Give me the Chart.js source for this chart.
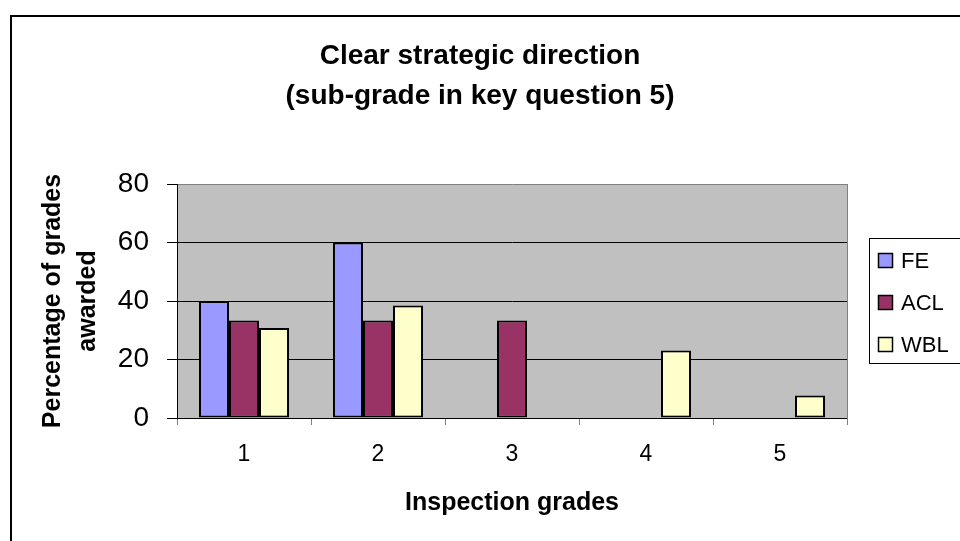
<!DOCTYPE html>
<html>
<head>
<meta charset="utf-8">
<script src="https://cdn.jsdelivr.net/npm/chart.js@4.4.1/dist/chart.umd.min.js"></script>
<style>
  html, body { margin: 0; padding: 0; background: #ffffff; }
  #wrap { width: 960px; height: 541px; }
</style>
</head>
<body>
<div id="wrap"><canvas id="c" width="960" height="541"></canvas></div>
<script>
const titleLines = ['Clear strategic direction', '(sub-grade in key question 5)'];
const yTitleLines = ['Percentage of grades', 'awarded'];
const xTitle = 'Inspection grades';
const categories = ['1', '2', '3', '4', '5'];
const seriesNames = ['FE', 'ACL', 'WBL'];
const feValues = [40, 60, 0, 0, 0];
const aclValues = [33.3, 33.3, 33.3, 0, 0];
const wblValues = [30.8, 38.5, 0, 23.1, 7.7];
const seriesColors = ['#9999FF', '#993366', '#FFFFCC'];
const yTicks = [0, 20, 40, 60, 80];

const FONT = "'Liberation Sans', Arial, sans-serif";
Chart.defaults.font.family = FONT;
Chart.defaults.color = '#000000';

const chromePlugin = {
  id: 'chrome',
  beforeDraw(chart) {
    const ctx = chart.ctx;
    const a = chart.chartArea;
    ctx.save();
    ctx.fillStyle = '#ffffff';
    ctx.fillRect(0, 0, chart.width, chart.height);
    ctx.fillStyle = '#C0C0C0';
    ctx.fillRect(a.left, a.top, a.right - a.left, a.bottom - a.top);
    ctx.strokeStyle = '#000000';
    ctx.lineWidth = 2;
    ctx.strokeRect(11, 16, 1000, 600);
    ctx.restore();
  },
  afterDraw(chart) {
    const ctx = chart.ctx;
    ctx.save();
    ctx.strokeStyle = '#000000';
    ctx.lineWidth = 1;
    ctx.strokeRect(869.5, 238.5, 120, 125);
    ctx.font = '22px ' + FONT;
    ctx.textBaseline = 'middle';
    ctx.textAlign = 'left';
    chart.data.datasets.forEach((ds, i) => {
      const cy = 260.5 + i * 42;
      ctx.fillStyle = ds.backgroundColor;
      ctx.fillRect(878, cy - 7.5, 15, 15);
      ctx.lineWidth = 1.5;
      ctx.strokeStyle = '#000000';
      ctx.strokeRect(878.5, cy - 7, 14, 14);
      ctx.fillStyle = '#000000';
      ctx.fillText(ds.label, 901, cy + 1);
    });
    ctx.restore();
  }
};

const datasets = [feValues, aclValues, wblValues].map((vals, i) => ({
  label: seriesNames[i],
  data: vals,
  backgroundColor: seriesColors[i],
  borderColor: '#000000',
  borderWidth: 2,
  borderSkipped: false,
  categoryPercentage: 0.672,
  barPercentage: 1.0
}));

new Chart(document.getElementById('c'), {
  type: 'bar',
  data: { labels: categories, datasets: datasets },
  plugins: [chromePlugin],
  options: {
    responsive: false,
    animation: false,
    devicePixelRatio: 1,
    layout: { padding: { left: 0, right: 0, top: 0, bottom: 0 } },
    plugins: {
      legend: { display: false },
      tooltip: { enabled: false },
      title: {
        display: true,
        text: titleLines,
        color: '#000000',
        font: { size: 28, weight: 'bold', family: FONT, lineHeight: 1.4 },
        padding: { top: 37, bottom: 68.6 }
      }
    },
    scales: {
      x: {
        offset: true,
        grid: {
          display: true,
          offset: true,
          drawOnChartArea: false,
          drawTicks: true,
          tickLength: 7,
          tickColor: '#808080'
        },
        border: { display: true, color: '#000000', width: 1 },
        ticks: {
          font: { size: 23, family: FONT },
          color: '#000000',
          padding: 16,
          maxRotation: 0
        },
        title: {
          display: true,
          text: xTitle,
          color: '#000000',
          font: { size: 25, weight: 'bold', family: FONT, lineHeight: 1.2 },
          padding: { top: 0, bottom: 23 }
        },
        afterFit(s) { s.height = 123; }
      },
      y: {
        min: 0,
        max: 80,
        afterBuildTicks(s) { s.ticks = yTicks.map(v => ({ value: v })); },
        grid: {
          color: (c) => (c.tick && c.tick.value === 80 ? '#808080' : '#000000'),
          tickColor: '#000000',
          tickLength: 10,
          lineWidth: 1
        },
        border: { display: true, color: '#000000', width: 1 },
        ticks: {
          font: { size: 28, family: FONT },
          color: '#000000',
          padding: 18
        },
        title: {
          display: true,
          text: yTitleLines,
          color: '#000000',
          font: { size: 25, weight: 'bold', family: FONT, lineHeight: 1.4 },
          padding: { top: 35.5, bottom: 0 }
        },
        afterFit(s) { s.width = 177; }
      },
      yR: {
        type: 'linear',
        position: 'right',
        display: true,
        grid: { display: false, drawTicks: false },
        ticks: { display: false },
        border: { display: true, color: '#808080', width: 1 },
        afterFit(s) { s.width = 113; }
      }
    }
  }
});
</script>
</body>
</html>
